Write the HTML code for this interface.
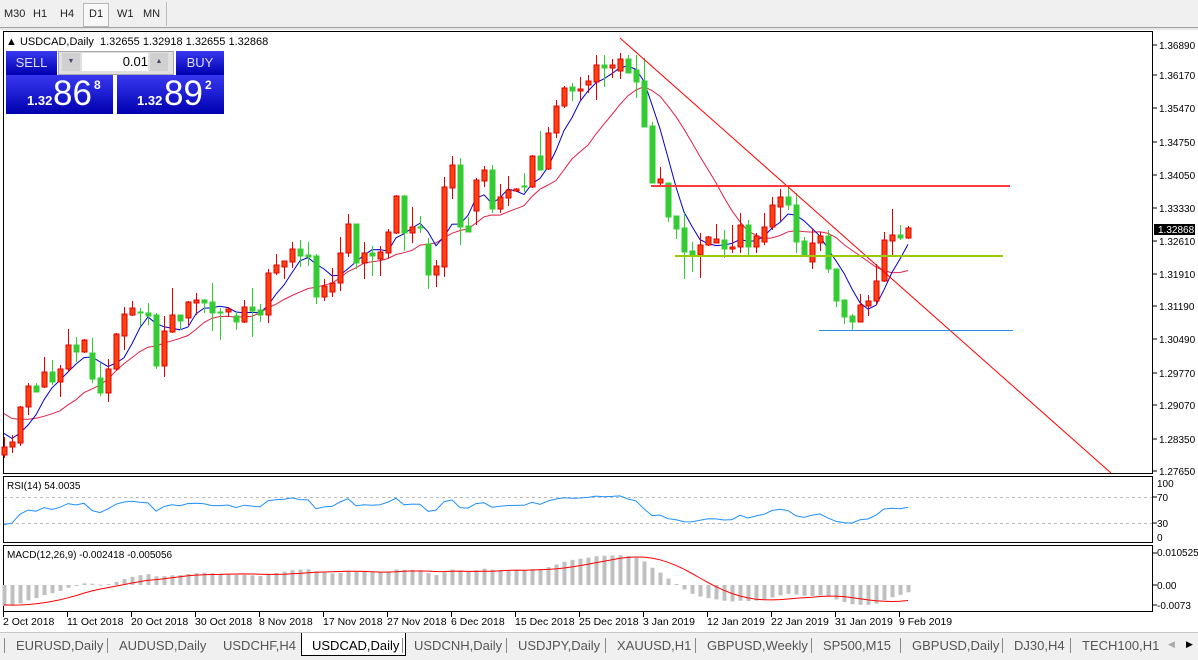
<!DOCTYPE html>
<html><head><meta charset="utf-8"><style>
body{margin:0;width:1198px;height:659px;overflow:hidden;background:#fff;font-family:"Liberation Sans",sans-serif;position:relative}
.tb{position:absolute;left:0;top:0;width:1198px;height:27px;background:#f0f0f0;border-bottom:1px solid #a0a0a0;font-size:11px;color:#222}
.tb span{position:absolute;top:8px}
.tp{position:absolute;color:#fff}
.bl{background:linear-gradient(#3838f0,#0000b0);}
</style></head><body>
<div class="tb">
<span style="left:4px">M30</span><span style="left:33px">H1</span><span style="left:60px">H4</span>
<div style="position:absolute;left:83px;top:3px;width:24px;height:22px;border:1px solid #b8b8b8;background:#f8f8f8"></div>
<span style="left:89px">D1</span><span style="left:117px">W1</span><span style="left:143px">MN</span>
<div style="position:absolute;left:166px;top:2px;width:1px;height:24px;background:#bbb"></div>
</div>
<div style="position:absolute;left:0;top:28px;width:1198px;height:2px;background:#e8e8e8"></div>
<svg id="s" width="1198" height="659" style="position:absolute;left:0;top:0"></svg>
<div style="position:absolute;left:6px;top:36px;font-size:11px;color:#000">&#9650; USDCAD,Daily&nbsp; 1.32655 1.32918 1.32655 1.32868</div>
<div class="tp bl" style="left:6px;top:51px;width:51px;height:24px;font-size:13px;line-height:24px;text-align:center;color:#dde">SELL</div>
<div class="tp bl" style="left:176px;top:51px;width:48px;height:24px;font-size:13px;line-height:24px;text-align:center;color:#dde">BUY</div>
<div style="position:absolute;left:58px;top:51px;width:114px;height:22px;background:#e0e0e0;border:1px solid #aaa"></div>
<div style="position:absolute;left:62px;top:53px;width:18px;height:18px;background:#d0d0d0;font-size:7px;color:#447;text-align:center;line-height:18px">&#9660;</div>
<div style="position:absolute;left:150px;top:53px;width:18px;height:18px;background:#d0d0d0;font-size:7px;color:#447;text-align:center;line-height:18px">&#9650;</div>
<div style="position:absolute;left:82px;top:53px;width:66px;height:18px;background:#fff;font-size:13px;text-align:right;line-height:18px;color:#000">0.01</div>
<div class="tp bl" style="left:6px;top:75px;width:107px;height:39px"></div>
<div class="tp bl" style="left:117px;top:75px;width:107px;height:39px"></div>
<div class="tp" style="left:27px;top:93px;font-size:13px;font-weight:bold">1.32</div>
<div class="tp" style="left:53px;top:74px;font-size:35px">86</div>
<div class="tp" style="left:94px;top:78px;font-size:12px;font-weight:bold">8</div>
<div class="tp" style="left:137px;top:93px;font-size:13px;font-weight:bold">1.32</div>
<div class="tp" style="left:164px;top:74px;font-size:35px">89</div>
<div class="tp" style="left:205px;top:78px;font-size:12px;font-weight:bold">2</div>
<div style="position:absolute;left:0;top:632px;width:1198px;height:27px;background:#f0f0f0;border-top:1px solid #c8c8c8"></div>
<div style="position:absolute;left:301px;top:633px;width:103px;height:22px;background:#fff;border:1px solid #000;border-top:none"></div>
<div id="tabs" style="font-size:13px;color:#555"></div>
<script>
const D=`r 447 455 437 458
r 442 447 435 453
r 407 443 406 446
r 386 407 383 415
g 386 392 383 392
r 372 387 357 388
g 372 382 360 385
r 369 382 365 397
r 345 369 329 372
g 345 352 337 362
r 340 352 339 353
g 353 379 338 383
g 378 393 363 396
r 369 393 359 402
r 334 369 333 371
r 314 336 307 350
r 308 315 301 316
g 312 313 308 326
g 313 316 303 325
g 315 366 313 369
r 331 366 316 377
r 315 332 288 333
g 315 321 315 330
r 302 318 301 325
r 300 303 293 315
g 300 303 299 313
g 302 313 283 331
g 312 313 308 340
r 309 312 307 317
g 316 322 312 330
r 307 322 300 323
g 307 311 288 337
g 310 315 304 322
r 273 315 269 323
r 265 273 254 275
r 261 267 261 279
r 249 262 242 268
g 249 256 240 267
g 255 257 242 266
g 256 297 254 304
r 286 297 279 301
r 283 292 268 297
r 253 283 237 291
r 224 253 214 257
g 224 263 224 269
r 253 263 242 279
g 253 256 246 276
r 252 259 246 276
r 232 253 229 258
r 196 233 195 234
g 196 233 195 251
r 227 233 207 243
g 227 228 216 233
g 244 275 238 289
r 266 275 260 287
r 187 267 177 277
r 165 188 156 199
g 165 227 158 245
g 226 232 217 232
r 180 211 178 225
r 170 181 166 187
g 170 209 165 213
r 197 209 184 213
r 190 198 176 206
r 189 191 188 192
g 186 187 173 192
r 156 187 155 188
g 156 170 131 170
r 133 169 127 170
r 106 133 100 138
r 88 106 86 108
g 87 91 83 101
r 89 91 77 100
r 81 85 75 93
r 65 82 55 100
g 65 68 55 87
r 65 68 59 78
r 59 71 53 79
g 59 73 55 73
g 70 82 55 98
g 81 127 58 127
g 126 183 122 183
r 179 183 167 185
g 183 217 183 222
g 216 229 216 239
g 228 252 213 279
g 251 255 242 272
r 245 255 233 278
r 237 245 236 246
r 239 243 224 243
g 240 249 230 258
r 247 249 225 253
r 225 247 213 253
g 225 247 220 255
r 236 247 233 253
r 227 242 213 245
r 205 227 197 230
r 197 207 189 221
g 197 205 187 210
g 205 242 193 253
g 241 255 237 255
r 243 262 228 269
r 236 243 232 251
g 236 269 230 273
g 269 301 269 307
g 300 317 300 324
g 316 322 314 330
r 305 322 294 322
r 301 306 295 316
r 281 301 264 305
r 240 281 232 282
r 235 241 209 255
g 235 238 225 240
r 228 238 226 239`.split('\n').map(l=>l.trim().split(' '));
let s='';const X=i=>4+8*i;
function L(x1,y1,x2,y2,c,w,d){s+=`<line x1="${x1}" y1="${y1}" x2="${x2}" y2="${y2}" stroke="${c}" stroke-width="${w||1}"${d?` stroke-dasharray="${d}"`:''}/>`}
function T(x,y,t,sz,c,a){s+=`<text x="${x}" y="${y}" font-size="${sz||11}" fill="${c||'#000'}"${a?` text-anchor="${a}"`:''}>${t}</text>`}
s+='<rect x="3.5" y="31.5" width="1149" height="442" fill="none" stroke="#000"/>';
s+='<rect x="3.5" y="476.5" width="1149" height="66" fill="none" stroke="#000"/>';
s+='<rect x="3.5" y="545.5" width="1149" height="66" fill="none" stroke="#000"/>';
[[1.36890,45],[1.36170,75],[1.35470,108],[1.34750,142],[1.34050,175],[1.33330,208],[1.32610,241],[1.31910,274],[1.31190,306],[1.30490,339],[1.29770,373],[1.29070,405],[1.28350,439],[1.27650,471]].forEach(([p,y])=>{L(1153,y,1157,y,'#000');T(1159,y+4,p.toFixed(5),10)});
s+='<rect x="1154" y="224" width="41" height="11" fill="#000"/>';T(1158,233,'1.32868',10,'#fff');
T(1157,487,'100',10);T(1157,501,'70',10);T(1157,527,'30',10);T(1157,541,'0',10);
T(1157,556,'0.010525',10);T(1157,589,'0.00',10);T(1157,609,'-0.0073',10);
L(1153,497,1157,497,'#000');L(1153,523,1157,523,'#000');L(1153,585,1157,585,'#000');
L(1153,553,1157,553,'#000');L(1153,605,1157,605,'#000');
['2 Oct 2018','11 Oct 2018','20 Oct 2018','30 Oct 2018','8 Nov 2018','17 Nov 2018','27 Nov 2018','6 Dec 2018','15 Dec 2018','25 Dec 2018','3 Jan 2019','12 Jan 2019','22 Jan 2019','31 Jan 2019','9 Feb 2019'].forEach((t,k)=>{const x=3+64*k;L(x+.5,612,x+.5,617,'#000');T(x,625,t,10.5)});
const pad=[];for(let k=0;k<40;k++)pad.push(250+k*4.8+(k%2?6:-6));
const C=pad.concat(D.map(d=>d[0]=='r'?+d[1]:+d[2]));const N=pad.length;
function sma(a,p){return a.map((v,i)=>i<p-1?null:a.slice(i-p+1,i+1).reduce((x,y)=>x+y)/p)}
function path(pts,c,w){s+=`<polyline fill="none" stroke="${c}" stroke-width="${w||1}" points="${pts.map(p=>p.join(',')).join(' ')}"/>`}
const m5=sma(C,5),m13=sma(C,13);
path(D.map((d,i)=>[X(i),m13[i+N].toFixed(1)]),'#e0204a');
path(D.map((d,i)=>[X(i),m5[i+N].toFixed(1)]),'#0000d0');
D.forEach((d,i)=>{const x=X(i),r=d[0]=='r',bt=+d[1],bb=+d[2],wt=+d[3],wb=+d[4];const c=r?'#e00000':'#33cc33';
L(x+.5,wt,x+.5,wb,c);
if(bb-bt<1)L(x-2,bt+.5,x+3,bt+.5,c);else s+=`<rect x="${x-2}" y="${bt}" width="5" height="${bb-bt}" fill="${r?'#ff4010':'#33cc33'}" stroke="${c}" stroke-width="1"/>`;});
L(620,38,1111,473,'#ff0000');
L(651,186,1010,186,'#ff3a3a',2);
L(675,256,1003,256,'#99cc00',2);
L(819,330.5,1013,330.5,'#2e8fe0');
L(4,497.5,1152,497.5,'#bbb',1,'3,3');L(4,523.5,1152,523.5,'#bbb',1,'3,3');
const v=C.map(y=>-y);let ag=0,al=0;const rsi=[];
for(let i=1;i<v.length;i++){const ch=v[i]-v[i-1],g=Math.max(ch,0),l=Math.max(-ch,0);
 if(i<=14){ag+=g/14;al+=l/14}else{ag=(ag*13+g)/14;al=(al*13+l)/14}
 rsi[i]=al==0?100:100-100/(1+ag/al);}
path(D.map((d,i)=>[X(i),(542.5-rsi[i+N]*0.65).toFixed(1)]),'#1e90ff');
T(7,489,'RSI(14) 54.0035',10);
const pr=C.map(y=>1.3689-(y-44)/4621);
function ema(a,p){const k=2/(p+1);let e=a[0];return a.map(x=>e=e+k*(x-e))}
const e12=ema(pr,12),e26=ema(pr,26);const mac=pr.map((x,i)=>e12[i]-e26[i]);const sig=sma(mac,9);
const Y=q=>585-q*3040;
D.forEach((d,i)=>{const q=mac[i+N];let y=Y(q);y=Math.max(547,Math.min(611,y));s+=`<rect x="${X(i)-1.5}" y="${Math.min(y,585)}" width="4" height="${Math.max(1,Math.abs(y-585))}" fill="#c0c0c0"/>`});
path(D.map((d,i)=>[X(i),Math.max(547,Math.min(611,Y(sig[i+N]))).toFixed(1)]),'#ff0000');
T(7,558,'MACD(12,26,9) -0.002418 -0.005056',10);
document.getElementById('s').innerHTML=s;
const tabs=[['EURUSD,Daily',16],['AUDUSD,Daily',119],['USDCHF,H4',223],['USDCAD,Daily',312],['USDCNH,Daily',414],['USDJPY,Daily',518],['XAUUSD,H1',617],['GBPUSD,Weekly',707],['SP500,M15',823],['GBPUSD,Daily',912],['DJ30,H4',1014],['TECH100,H1',1082]];
let h='';tabs.forEach(([t,x],k)=>{h+=`<div style="position:absolute;left:${x}px;top:638px;${k==3?'color:#000':''}">${t}</div>`;if(k!=2&&k!=3)h+=`<div style="position:absolute;left:${x-12}px;top:638px;width:1px;height:15px;background:#888"></div>`});
h+='<div style="position:absolute;left:1168px;top:639px;font-size:9px;color:#aaa">&#9664;</div><div style="position:absolute;left:1186px;top:639px;font-size:9px;color:#000">&#9654;</div>';
document.getElementById('tabs').innerHTML=h;
</script>
</body></html>
